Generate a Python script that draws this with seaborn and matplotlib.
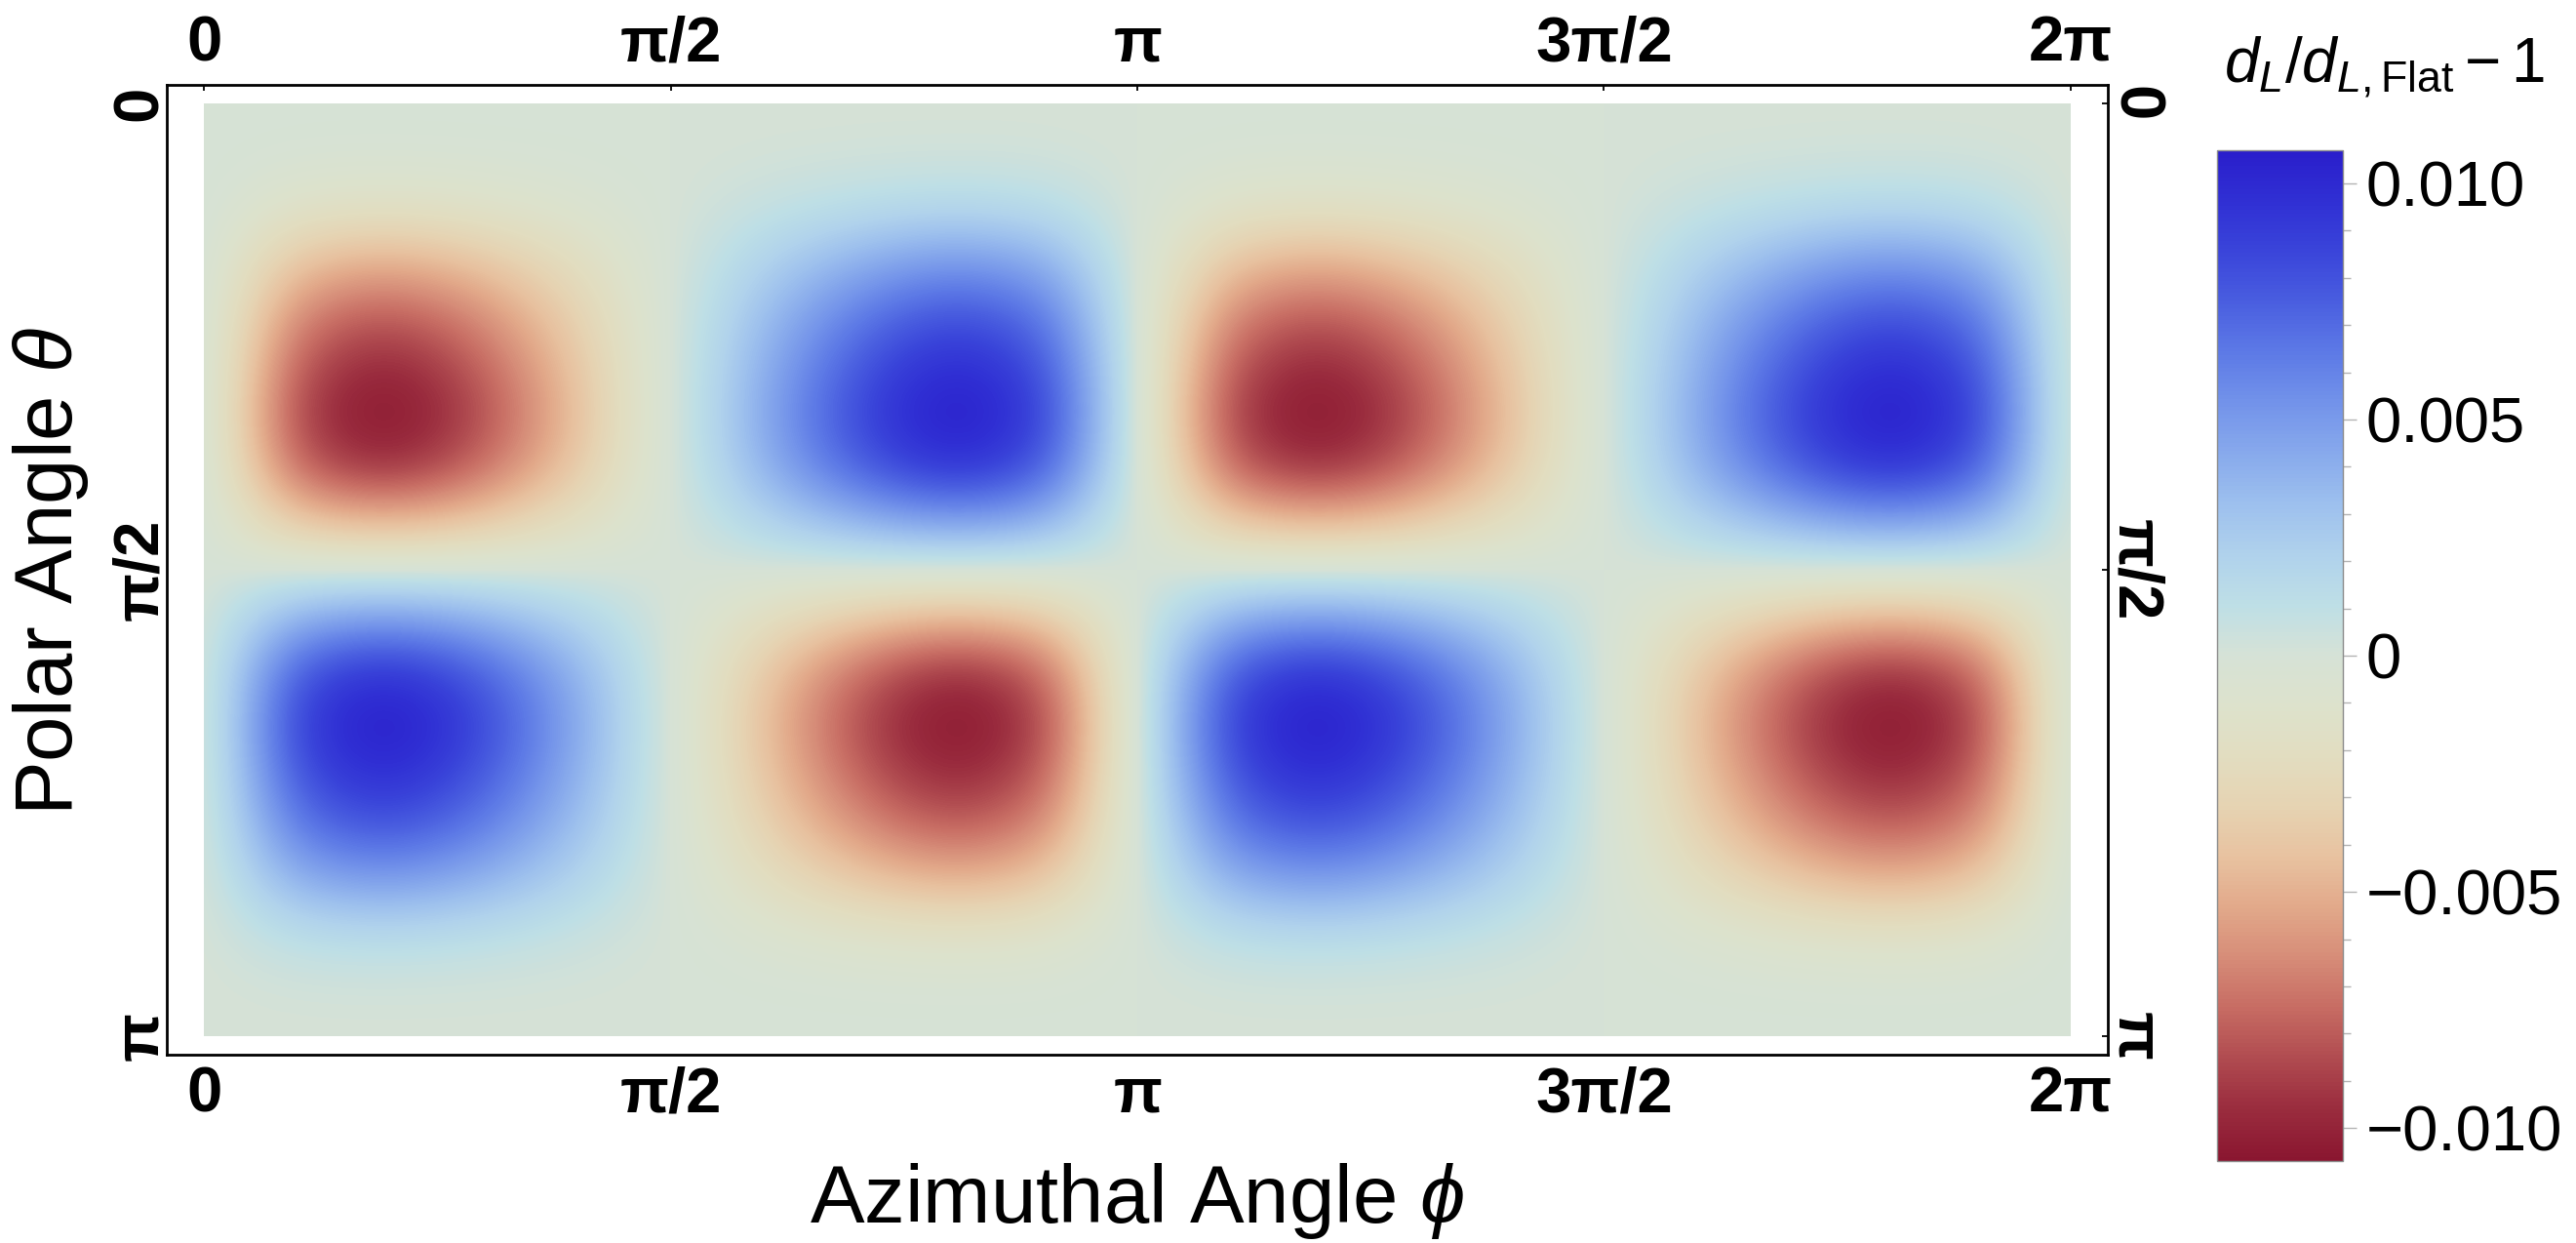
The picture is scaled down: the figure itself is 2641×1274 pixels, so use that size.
import numpy as np
import matplotlib
matplotlib.use("Agg")
import matplotlib.pyplot as plt
import seaborn as sns
from matplotlib.patches import Rectangle
from matplotlib.ticker import MultipleLocator

sns.set_theme(style="white")
plt.rcParams['font.family'] = ['Liberation Sans', 'DejaVu Sans']
plt.rcParams['mathtext.fontset'] = 'custom'
plt.rcParams['mathtext.rm'] = 'Liberation Sans'
plt.rcParams['mathtext.it'] = 'Liberation Sans:italic'
plt.rcParams['mathtext.bf'] = 'Liberation Sans:bold'
for k in ['text.color', 'axes.labelcolor', 'xtick.color', 'ytick.color']:
    plt.rcParams[k] = 'black'

# sample grid
# rows: polar angle theta (degrees), columns: azimuthal angle phi (degrees)
theta_deg = [0, 10, 20, 30, 40, 50, 60, 70, 80, 90,
             100, 110, 120, 130, 140, 150, 160, 170, 180]
phi_deg = [0, 9, 18, 27, 36, 45, 54, 63, 72, 81, 90, 99, 108, 117, 126, 135, 144, 153, 162, 171,
           180, 189, 198, 207, 216, 225, 234, 243, 252, 261, 270, 279, 288, 297, 306, 315, 324,
           333, 342, 351, 360]

# d_L/d_L,Flat - 1, in units of 1e-3
dl_ratio_e3 = [
    [0] * 41,
    [0, -0.09, -0.17, -0.21, -0.21, -0.20, -0.17, -0.13, -0.09, -0.04, 0, 0.04, 0.09, 0.13, 0.17, 0.20, 0.21, 0.21, 0.17, 0.09,
     0, -0.09, -0.17, -0.21, -0.21, -0.20, -0.17, -0.13, -0.09, -0.04, 0, 0.04, 0.09, 0.13, 0.17, 0.20, 0.21, 0.21, 0.17, 0.09, 0],
    [0, -0.67, -1.28, -1.54, -1.61, -1.49, -1.27, -0.98, -0.66, -0.30, 0, 0.30, 0.66, 0.98, 1.27, 1.49, 1.61, 1.54, 1.28, 0.67,
     0, -0.67, -1.28, -1.54, -1.61, -1.49, -1.27, -0.98, -0.66, -0.30, 0, 0.30, 0.66, 0.98, 1.27, 1.49, 1.61, 1.54, 1.28, 0.67, 0],
    [0, -2.02, -3.85, -4.62, -4.82, -4.48, -3.80, -2.94, -1.97, -0.91, 0, 0.91, 1.97, 2.94, 3.80, 4.48, 4.82, 4.62, 3.85, 2.02,
     0, -2.02, -3.85, -4.62, -4.82, -4.48, -3.80, -2.94, -1.97, -0.91, 0, 0.91, 1.97, 2.94, 3.80, 4.48, 4.82, 4.62, 3.85, 2.02, 0],
    [0, -3.24, -6.16, -7.40, -7.70, -7.16, -6.09, -4.70, -3.16, -1.46, 0, 1.46, 3.16, 4.70, 6.09, 7.16, 7.70, 7.40, 6.16, 3.24,
     0, -3.24, -6.16, -7.40, -7.70, -7.16, -6.09, -4.70, -3.16, -1.46, 0, 1.46, 3.16, 4.70, 6.09, 7.16, 7.70, 7.40, 6.16, 3.24, 0],
    [0, -4.04, -7.70, -9.24, -9.63, -8.96, -7.61, -5.87, -3.95, -1.83, 0, 1.83, 3.95, 5.87, 7.61, 8.96, 9.63, 9.24, 7.70, 4.04,
     0, -4.04, -7.70, -9.24, -9.63, -8.96, -7.61, -5.87, -3.95, -1.83, 0, 1.83, 3.95, 5.87, 7.61, 8.96, 9.63, 9.24, 7.70, 4.04, 0],
    [0, -4.45, -8.47, -10.17, -10.59, -9.85, -8.37, -6.46, -4.34, -2.01, 0, 2.01, 4.34, 6.46, 8.37, 9.85, 10.59, 10.17, 8.47, 4.45,
     0, -4.45, -8.47, -10.17, -10.59, -9.85, -8.37, -6.46, -4.34, -2.01, 0, 2.01, 4.34, 6.46, 8.37, 9.85, 10.59, 10.17, 8.47, 4.45, 0],
    [0, -3.95, -7.53, -9.04, -9.42, -8.76, -7.44, -5.74, -3.86, -1.79, 0, 1.79, 3.86, 5.74, 7.44, 8.76, 9.42, 9.04, 7.53, 3.95,
     0, -3.95, -7.53, -9.04, -9.42, -8.76, -7.44, -5.74, -3.86, -1.79, 0, 1.79, 3.86, 5.74, 7.44, 8.76, 9.42, 9.04, 7.53, 3.95, 0],
    [0, -2.16, -4.11, -4.93, -5.14, -4.78, -4.06, -3.13, -2.11, -0.98, 0, 0.98, 2.11, 3.13, 4.06, 4.78, 5.14, 4.93, 4.11, 2.16,
     0, -2.16, -4.11, -4.93, -5.14, -4.78, -4.06, -3.13, -2.11, -0.98, 0, 0.98, 2.11, 3.13, 4.06, 4.78, 5.14, 4.93, 4.11, 2.16, 0],
    [0] * 41,
    [0, 2.16, 4.11, 4.93, 5.14, 4.78, 4.06, 3.13, 2.11, 0.98, 0, -0.98, -2.11, -3.13, -4.06, -4.78, -5.14, -4.93, -4.11, -2.16,
     0, 2.16, 4.11, 4.93, 5.14, 4.78, 4.06, 3.13, 2.11, 0.98, 0, -0.98, -2.11, -3.13, -4.06, -4.78, -5.14, -4.93, -4.11, -2.16, 0],
    [0, 3.95, 7.53, 9.04, 9.42, 8.76, 7.44, 5.74, 3.86, 1.79, 0, -1.79, -3.86, -5.74, -7.44, -8.76, -9.42, -9.04, -7.53, -3.95,
     0, 3.95, 7.53, 9.04, 9.42, 8.76, 7.44, 5.74, 3.86, 1.79, 0, -1.79, -3.86, -5.74, -7.44, -8.76, -9.42, -9.04, -7.53, -3.95, 0],
    [0, 4.45, 8.47, 10.17, 10.59, 9.85, 8.37, 6.46, 4.34, 2.01, 0, -2.01, -4.34, -6.46, -8.37, -9.85, -10.59, -10.17, -8.47, -4.45,
     0, 4.45, 8.47, 10.17, 10.59, 9.85, 8.37, 6.46, 4.34, 2.01, 0, -2.01, -4.34, -6.46, -8.37, -9.85, -10.59, -10.17, -8.47, -4.45, 0],
    [0, 4.04, 7.70, 9.24, 9.63, 8.96, 7.61, 5.87, 3.95, 1.83, 0, -1.83, -3.95, -5.87, -7.61, -8.96, -9.63, -9.24, -7.70, -4.04,
     0, 4.04, 7.70, 9.24, 9.63, 8.96, 7.61, 5.87, 3.95, 1.83, 0, -1.83, -3.95, -5.87, -7.61, -8.96, -9.63, -9.24, -7.70, -4.04, 0],
    [0, 3.24, 6.16, 7.40, 7.70, 7.16, 6.09, 4.70, 3.16, 1.46, 0, -1.46, -3.16, -4.70, -6.09, -7.16, -7.70, -7.40, -6.16, -3.24,
     0, 3.24, 6.16, 7.40, 7.70, 7.16, 6.09, 4.70, 3.16, 1.46, 0, -1.46, -3.16, -4.70, -6.09, -7.16, -7.70, -7.40, -6.16, -3.24, 0],
    [0, 2.02, 3.85, 4.62, 4.82, 4.48, 3.80, 2.94, 1.97, 0.91, 0, -0.91, -1.97, -2.94, -3.80, -4.48, -4.82, -4.62, -3.85, -2.02,
     0, 2.02, 3.85, 4.62, 4.82, 4.48, 3.80, 2.94, 1.97, 0.91, 0, -0.91, -1.97, -2.94, -3.80, -4.48, -4.82, -4.62, -3.85, -2.02, 0],
    [0, 0.67, 1.28, 1.54, 1.61, 1.49, 1.27, 0.98, 0.66, 0.30, 0, -0.30, -0.66, -0.98, -1.27, -1.49, -1.61, -1.54, -1.28, -0.67,
     0, 0.67, 1.28, 1.54, 1.61, 1.49, 1.27, 0.98, 0.66, 0.30, 0, -0.30, -0.66, -0.98, -1.27, -1.49, -1.61, -1.54, -1.28, -0.67, 0],
    [0, 0.09, 0.17, 0.21, 0.21, 0.20, 0.17, 0.13, 0.09, 0.04, 0, -0.04, -0.09, -0.13, -0.17, -0.20, -0.21, -0.21, -0.17, -0.09,
     0, 0.09, 0.17, 0.21, 0.21, 0.20, 0.17, 0.13, 0.09, 0.04, 0, -0.04, -0.09, -0.13, -0.17, -0.20, -0.21, -0.21, -0.17, -0.09, 0],
    [0] * 41,
]

x_ticks = [0, np.pi / 2, np.pi, 3 * np.pi / 2, 2 * np.pi]
x_tick_labels = ["0", "π/2", "π", "3π/2", "2π"]
y_ticks = [0, np.pi / 2, np.pi]
y_tick_labels = ["0", "π/2", "π"]
cbar_ticks = [0.010, 0.005, 0.0, -0.005, -0.010]
cbar_tick_labels = ["0.010", "0.005", "0", "\u22120.005", "\u22120.010"]
cbar_range = 0.0107

# red (low) -> beige -> blue (high), sampled from the colour bar
cmap = sns.blend_palette(
    ["#8a1630", "#9a2c3e", "#b04b50", "#c76c63", "#d68c78", "#e2a98a",
     "#e8c2a0", "#e6d3b2", "#e2ddc0", "#dde2cc", "#d6e2d6", "#bedfe6",
     "#b0d2ec", "#9dc0ee", "#88aaec", "#7393ea", "#5d7ae6", "#4a5fe0",
     "#3a45da", "#3030d4", "#2a1ecb"], as_cmap=True)

field = np.array(dl_ratio_e3) * 1e-3
theta = np.deg2rad(theta_deg)
phi = np.deg2rad(phi_deg)
dth = (theta[1] - theta[0]) / 2
dph = (phi[1] - phi[0]) / 2

fig = plt.figure(figsize=(26.41, 12.74), dpi=100)
ax = fig.add_axes([0.0648, 0.1515, 0.7535, 0.7802])

im = ax.imshow(field, cmap=cmap, vmin=-cbar_range, vmax=cbar_range,
               interpolation='bicubic', origin='upper', aspect='auto',
               extent=(phi[0] - dph, phi[-1] + dph, theta[-1] + dth, theta[0] - dth))
clip = Rectangle((phi[0], theta[0]), phi[-1] - phi[0], theta[-1] - theta[0],
                 transform=ax.transData)
im.set_clip_path(clip)

pad_x = 0.02 * (phi[-1] - phi[0])
pad_y = 0.02 * (theta[-1] - theta[0])
ax.set_xlim(phi[0] - pad_x, phi[-1] + pad_x)
ax.set_ylim(theta[-1] + pad_y, theta[0] - pad_y)

for s in ax.spines.values():
    s.set_color("black")
    s.set_linewidth(2.0)

ax.set_xticks(x_ticks)
ax.set_xticklabels(x_tick_labels, fontweight='bold', fontsize=47)
ax.set_yticks(y_ticks)
ax.set_yticklabels(y_tick_labels, fontweight='bold', fontsize=47)
ax.tick_params(axis='both', which='major', direction='in', length=4, width=1.3,
               color='black', top=True, right=True, labeltop=True, labelright=True)
ax.tick_params(axis='x', pad=8)
ax.tick_params(axis='y', pad=-2)
for t in ax.yaxis.get_major_ticks():
    t.label1.set_rotation(90)
    t.label1.set_va('center')
    t.label2.set_rotation(-90)
    t.label2.set_va('center')

fig.text(1166 / 2641, 1 - 1253 / 1274, "Azimuthal Angle $\\phi$",
         ha='center', va='baseline', fontsize=60)
fig.text(0.004, 0.54, "Polar Angle $\\theta$", rotation=90,
         ha='left', va='center', fontsize=60)

# colour bar
cax = fig.add_axes([0.8607, 0.0659, 0.0488, 0.8132])
cb = fig.colorbar(im, cax=cax, ticks=cbar_ticks)
cb.set_ticklabels(cbar_tick_labels)
cb.outline.set_edgecolor('0.55')
cb.outline.set_linewidth(1.0)
cax.yaxis.set_minor_locator(MultipleLocator(0.001))
cax.tick_params(which='major', labelsize=47, length=10, width=1, color='0.7', pad=7)
cax.tick_params(which='minor', length=6, width=1, color='0.7')
fig.text(2445 / 2641, 1 - 68 / 1274, "$d_L/d_{L,\\mathrm{Flat}}-1$",
         ha='center', va='center', fontsize=46)

fig.savefig("out.png", dpi=100)
